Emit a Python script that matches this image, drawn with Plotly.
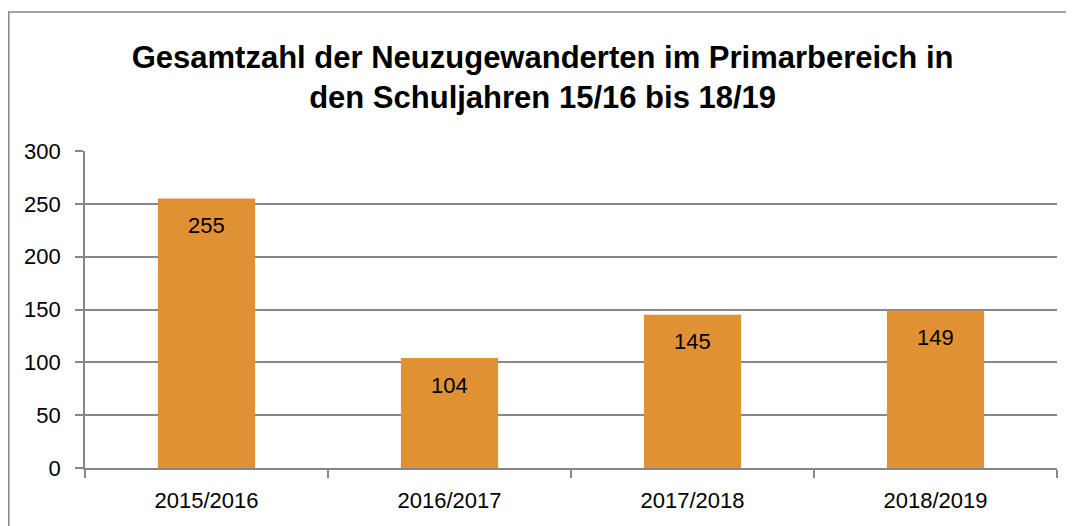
import plotly.graph_objects as go

categories = ["2015/2016", "2016/2017", "2017/2018", "2018/2019"]
values = [255, 104, 145, 149]
y_ticks = [0, 50, 100, 150, 200, 250, 300]
title_lines = ["Gesamtzahl der Neuzugewanderten im Primarbereich in",
               "den Schuljahren 15/16 bis 18/19"]

FONT = "Liberation Sans, Arial, sans-serif"
GRID = "#878787"
BAR = "#E09133"

# page body has an 8px margin; figure sized to fit the window
W, H = 1066, 518
L, R, T, B = 77, 17, 143, 58
pw, ph = W - L - R, H - T - B

fig = go.Figure()
fig.add_trace(go.Bar(x=categories, y=values, marker=dict(color=BAR, line=dict(width=0)),
                     width=0.4, hoverinfo="skip"))

for c, v in zip(categories, values):
    fig.add_annotation(x=c, y=v, text=str(v), showarrow=False, yshift=-27,
                       font=dict(family=FONT, size=22, color="#000000"))

# outer chart border (left and top edges only visible)
bx = (0.8 - L) / pw
by = (H - B - 4) / ph
fig.add_shape(type="path", xref="paper", yref="paper",
              path=f"M {bx},-1 L {bx},{by} L 1.2,{by}",
              line=dict(color=GRID, width=1.5))

fig.update_layout(
    width=W, height=H,
    margin=dict(l=L, r=R, t=T, b=B, pad=0),
    paper_bgcolor="white", plot_bgcolor="white",
    showlegend=False,
    title=dict(text="<br>".join(title_lines), x=0.5015, xanchor="center",
               y=1 - 60 / H, yanchor="middle",
               font=dict(family=FONT, size=31, color="#000000", weight="bold")),
    xaxis=dict(type="category", showline=True, linecolor=GRID, linewidth=1.7,
               ticks="outside", tickson="boundaries", ticklen=8, tickcolor=GRID, tickwidth=1.7,
               tickfont=dict(family=FONT, size=22, color="#000000"),
               ticklabelstandoff=12, showgrid=False, fixedrange=True),
    yaxis=dict(range=[0, 300], tickvals=y_ticks, showline=True, linecolor=GRID, linewidth=1.7,
               ticks="outside", ticklen=8, tickcolor=GRID, tickwidth=1.7,
               showgrid=True, gridcolor=GRID, gridwidth=1.7, zeroline=False,
               tickfont=dict(family=FONT, size=22, color="#000000"),
               ticklabelstandoff=10, fixedrange=True),
)

fig.write_html("out.html")
